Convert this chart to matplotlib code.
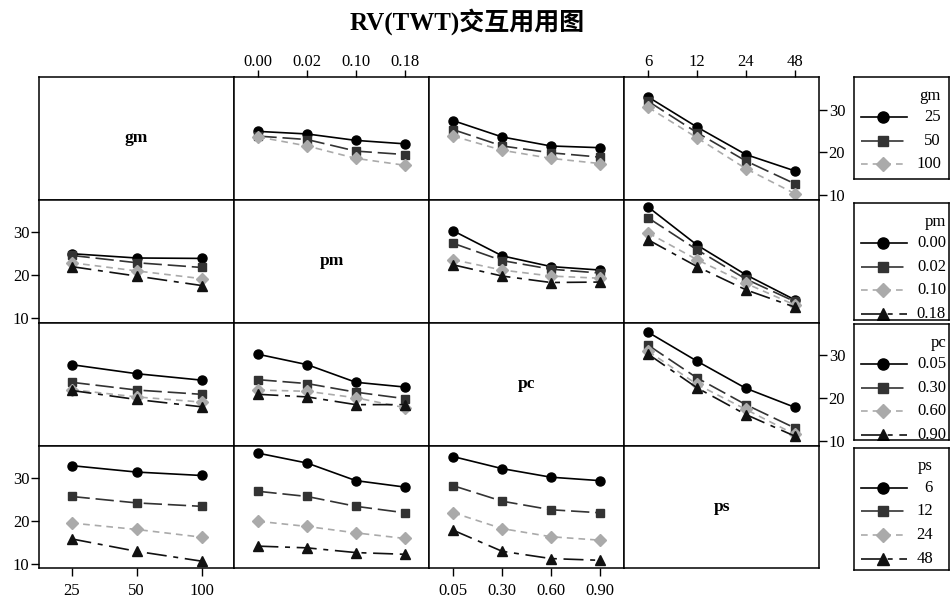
import matplotlib
matplotlib.use('Agg')
import matplotlib.pyplot as plt

plt.rcParams['font.family'] = ['Liberation Serif', 'Noto Sans CJK SC']

#########################################################

TITLE = 'RV(TWT)交互用用图'
FACTORS = ['gm', 'pm', 'pc', 'ps']

gm_levels = ['25', '50', '100']
pm_levels = ['0.00', '0.02', '0.10', '0.18']
pc_levels = ['0.05', '0.30', '0.60', '0.90']
ps_levels = ['6', '12', '24', '48']

# one row per level of the line factor, one value per level of the x factor
gm_by_pm = [[24.9, 24.3, 22.8, 22.0], [23.8, 23.0, 20.3, 19.5], [23.6, 21.5, 18.6, 17.0]]
gm_by_pc = [[27.4, 23.6, 21.5, 21.1], [25.3, 21.5, 19.9, 18.9], [23.8, 20.5, 18.6, 17.4]]
gm_by_ps = [[32.9, 25.9, 19.5, 15.7], [31.9, 24.6, 18.0, 12.7], [30.5, 23.4, 16.2, 10.4]]

pm_by_gm = [[25.0, 24.0, 23.9], [24.6, 22.9, 21.8], [22.9, 21.0, 19.2], [22.0, 19.8, 17.6]]
pm_by_pc = [[30.3, 24.5, 22.0, 21.2], [27.4, 23.4, 21.4, 20.5],
            [23.6, 21.2, 19.8, 19.3], [22.4, 19.8, 18.3, 18.4]]
pm_by_ps = [[35.8, 27.0, 20.1, 14.3], [33.3, 25.9, 19.1, 13.9],
            [29.8, 23.6, 18.1, 13.1], [28.2, 22.0, 16.6, 12.6]]

pc_by_gm = [[27.8, 25.7, 24.2], [23.7, 21.9, 20.9], [22.0, 20.3, 19.1], [21.8, 19.7, 18.0]]
pc_by_pm = [[30.2, 27.8, 23.7, 22.6], [24.3, 23.4, 21.4, 19.9],
            [21.9, 21.6, 20.1, 17.8], [20.9, 20.3, 18.5, 18.5]]
pc_by_ps = [[35.3, 28.6, 22.3, 17.9], [32.3, 24.7, 18.5, 13.1],
            [30.9, 23.2, 17.4, 11.6], [30.2, 22.4, 16.2, 11.2]]

ps_by_gm = [[32.9, 31.4, 30.6], [25.7, 24.2, 23.4], [19.5, 18.0, 16.2], [15.8, 12.9, 10.6]]
ps_by_pm = [[35.8, 33.5, 29.4, 27.9], [26.9, 25.7, 23.4, 21.9],
            [19.9, 18.7, 17.2, 15.9], [14.1, 13.7, 12.6, 12.2]]
ps_by_pc = [[35.0, 32.2, 30.2, 29.4], [28.2, 24.6, 22.6, 21.9],
            [21.9, 18.2, 16.3, 15.5], [17.8, 12.9, 11.2, 10.8]]

#########################################################

LEVELS = {'gm': gm_levels, 'pm': pm_levels, 'pc': pc_levels, 'ps': ps_levels}
MEANS = {
    ('gm', 'pm'): gm_by_pm, ('gm', 'pc'): gm_by_pc, ('gm', 'ps'): gm_by_ps,
    ('pm', 'gm'): pm_by_gm, ('pm', 'pc'): pm_by_pc, ('pm', 'ps'): pm_by_ps,
    ('pc', 'gm'): pc_by_gm, ('pc', 'pm'): pc_by_pm, ('pc', 'ps'): pc_by_ps,
    ('ps', 'gm'): ps_by_gm, ('ps', 'pm'): ps_by_pm, ('ps', 'pc'): ps_by_pc,
}

STYLES = [
    dict(color='black', ls='-', marker='o', ms=6.5),
    dict(color='#333333', ls=(0, (11, 3.5)), marker='s', ms=6),
    dict(color='#aaaaaa', ls=(0, (4, 3)), marker='D', ms=6),
    dict(color='#111111', ls=(0, (12, 4, 3, 4)), marker='^', ms=7.5),
]

W, H = 950, 605
COL_EDGES = [39, 234, 429, 624, 819]
ROW_EDGES = [77, 199.5, 322.5, 445.5, 568]
YLIM = (9.0, 37.6)


def px_rect(x0, y0, x1, y1):
    return [x0 / W, 1 - y1 / H, (x1 - x0) / W, (y1 - y0) / H]


fig = plt.figure(figsize=(W / 100, H / 100), dpi=100)

for i, fr in enumerate(FACTORS):
    for j, fc in enumerate(FACTORS):
        ax = fig.add_axes(px_rect(COL_EDGES[j], ROW_EDGES[i], COL_EDGES[j + 1], ROW_EDGES[i + 1]))
        nx = len(LEVELS[fc])
        ax.set_xlim(-0.5, nx - 0.5)
        ax.set_ylim(*YLIM)
        for s in ax.spines.values():
            s.set_linewidth(1.1)
        ax.set_xticks(range(nx))
        ax.set_xticklabels(LEVELS[fc])
        ax.set_yticks([10, 20, 30])
        ax.tick_params(direction='out', length=5.5, width=1, labelsize=12,
                       top=False, bottom=False, left=False, right=False,
                       labeltop=False, labelbottom=False, labelleft=False, labelright=False)
        ax.tick_params(axis='y', pad=1.5)
        if i == 0 and j % 2 == 1:
            ax.tick_params(top=True, labeltop=True)
            ax.tick_params(axis='x', length=5, pad=0)
        if i == 3 and j % 2 == 0:
            ax.tick_params(bottom=True, labelbottom=True)
            ax.tick_params(axis='x', pad=5.5)
        if j == 0 and i % 2 == 1:
            ax.tick_params(left=True, labelleft=True)
        if j == 3 and i % 2 == 0:
            ax.tick_params(right=True, labelright=True)

        if i == j:
            ax.text(0.5, 0.5, fr, transform=ax.transAxes, ha='center', va='center',
                    fontsize=12.5, fontweight='bold')
            continue

        for k, vals in enumerate(MEANS[(fr, fc)]):
            st = STYLES[k]
            ax.plot(range(nx), vals, color=st['color'], ls=st['ls'], lw=1.2,
                    marker=st['marker'], ms=st['ms'], mfc=st['color'], mec=st['color'])

#########################################################
# legends on the right, one per factor

LEG_X = (854, 949)
LEG_BOXES = [(77, 179), (203, 320), (324, 440), (447.5, 570)]
LEG_TEXT_RIGHT = [87, 92, 92, 79]

for f, (top, bottom), xr in zip(FACTORS, LEG_BOXES, LEG_TEXT_RIGHT):
    lax = fig.add_axes(px_rect(LEG_X[0], top, LEG_X[1], bottom))
    lax.set_xlim(0, LEG_X[1] - LEG_X[0])
    lax.set_ylim(bottom - top, 0)
    lax.set_xticks([])
    lax.set_yticks([])
    for s in lax.spines.values():
        s.set_linewidth(1.1)
    lax.text(xr, 19, f, ha='right', va='center', fontsize=12)
    for k, lev in enumerate(LEVELS[f]):
        st = STYLES[k]
        y = 40 + k * 23.7
        lax.plot([7, 53], [y, y], color=st['color'], ls=st['ls'], lw=1.2)
        lax.plot([29], [y], ls='none', marker=st['marker'], ms=st['ms'] + 1.5,
                 mfc=st['color'], mec=st['color'])
        lax.text(xr, y, lev, ha='right', va='center', fontsize=12, clip_on=True)

fig.text(467 / W, 1 - 22 / H, TITLE, ha='center', va='center', fontsize=18, fontweight='bold')

fig.savefig('out.png', dpi=100)
